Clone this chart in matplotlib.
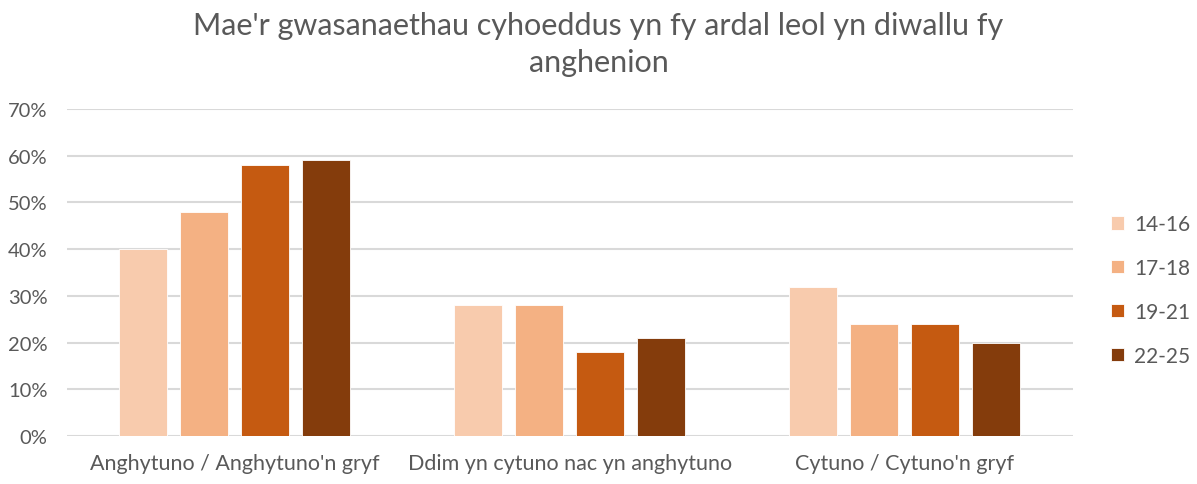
import matplotlib
matplotlib.use("Agg")
import matplotlib.pyplot as plt
import numpy as np

# Data
categories = ["Anghytuno / Anghytuno'n gryf",
              "Ddim yn cytuno nac yn anghytuno",
              "Cytuno / Cytuno'n gryf"]
age_groups = ["14-16", "17-18", "19-21", "22-25"]
vals_14_16 = [40, 28, 32]
vals_17_18 = [48, 28, 24]
vals_19_21 = [58, 18, 24]
vals_22_25 = [59, 21, 20]
colors = ["#F8CBAD", "#F4B183", "#C55A11", "#843C0C"]

series = [vals_14_16, vals_17_18, vals_19_21, vals_22_25]
title = "Mae'r gwasanaethau cyhoeddus yn fy ardal leol yn diwallu fy\nanghenion"

plt.rcParams["font.family"] = ["Lato", "DejaVu Sans"]
text_grey = "#595959"

fig = plt.figure(figsize=(11.97, 4.85), dpi=100)
ax = fig.add_axes([0.056, 0.099, 0.84, 0.674])

x = np.arange(len(categories))
slot = 0.182
width = 0.143
for i, (vals, lab, col) in enumerate(zip(series, age_groups, colors)):
    offs = (i - 1.5) * slot
    ax.bar(x + offs, vals, width, color=col, label=lab, zorder=3,
           edgecolor="white", linewidth=0.6)

ax.set_xlim(-0.5, len(categories) - 0.5)
ax.set_ylim(0, 70)
ax.set_yticks(np.arange(0, 71, 10))
ax.set_yticklabels([f"{v}%" for v in range(0, 71, 10)])
ax.set_xticks(x)
ax.set_xticklabels(categories)
ax.grid(axis="y", color="#D9D9D9", linewidth=1.5, zorder=0)
ax.tick_params(axis="x", length=0, labelsize=15.5, colors=text_grey, pad=12)
ax.tick_params(axis="y", length=0, labelsize=14.5, colors=text_grey, pad=14)
for s in ax.spines.values():
    s.set_visible(False)

fig.suptitle(title, fontsize=22, color=text_grey, y=0.975, linespacing=1.4)

ax.legend(loc="center left", bbox_to_anchor=(1.02, 0.446), frameon=False,
          fontsize=15, labelcolor=text_grey, handlelength=0.6, handleheight=0.6,
          labelspacing=1.15, handletextpad=0.5)

fig.savefig("out.png", dpi=100)
